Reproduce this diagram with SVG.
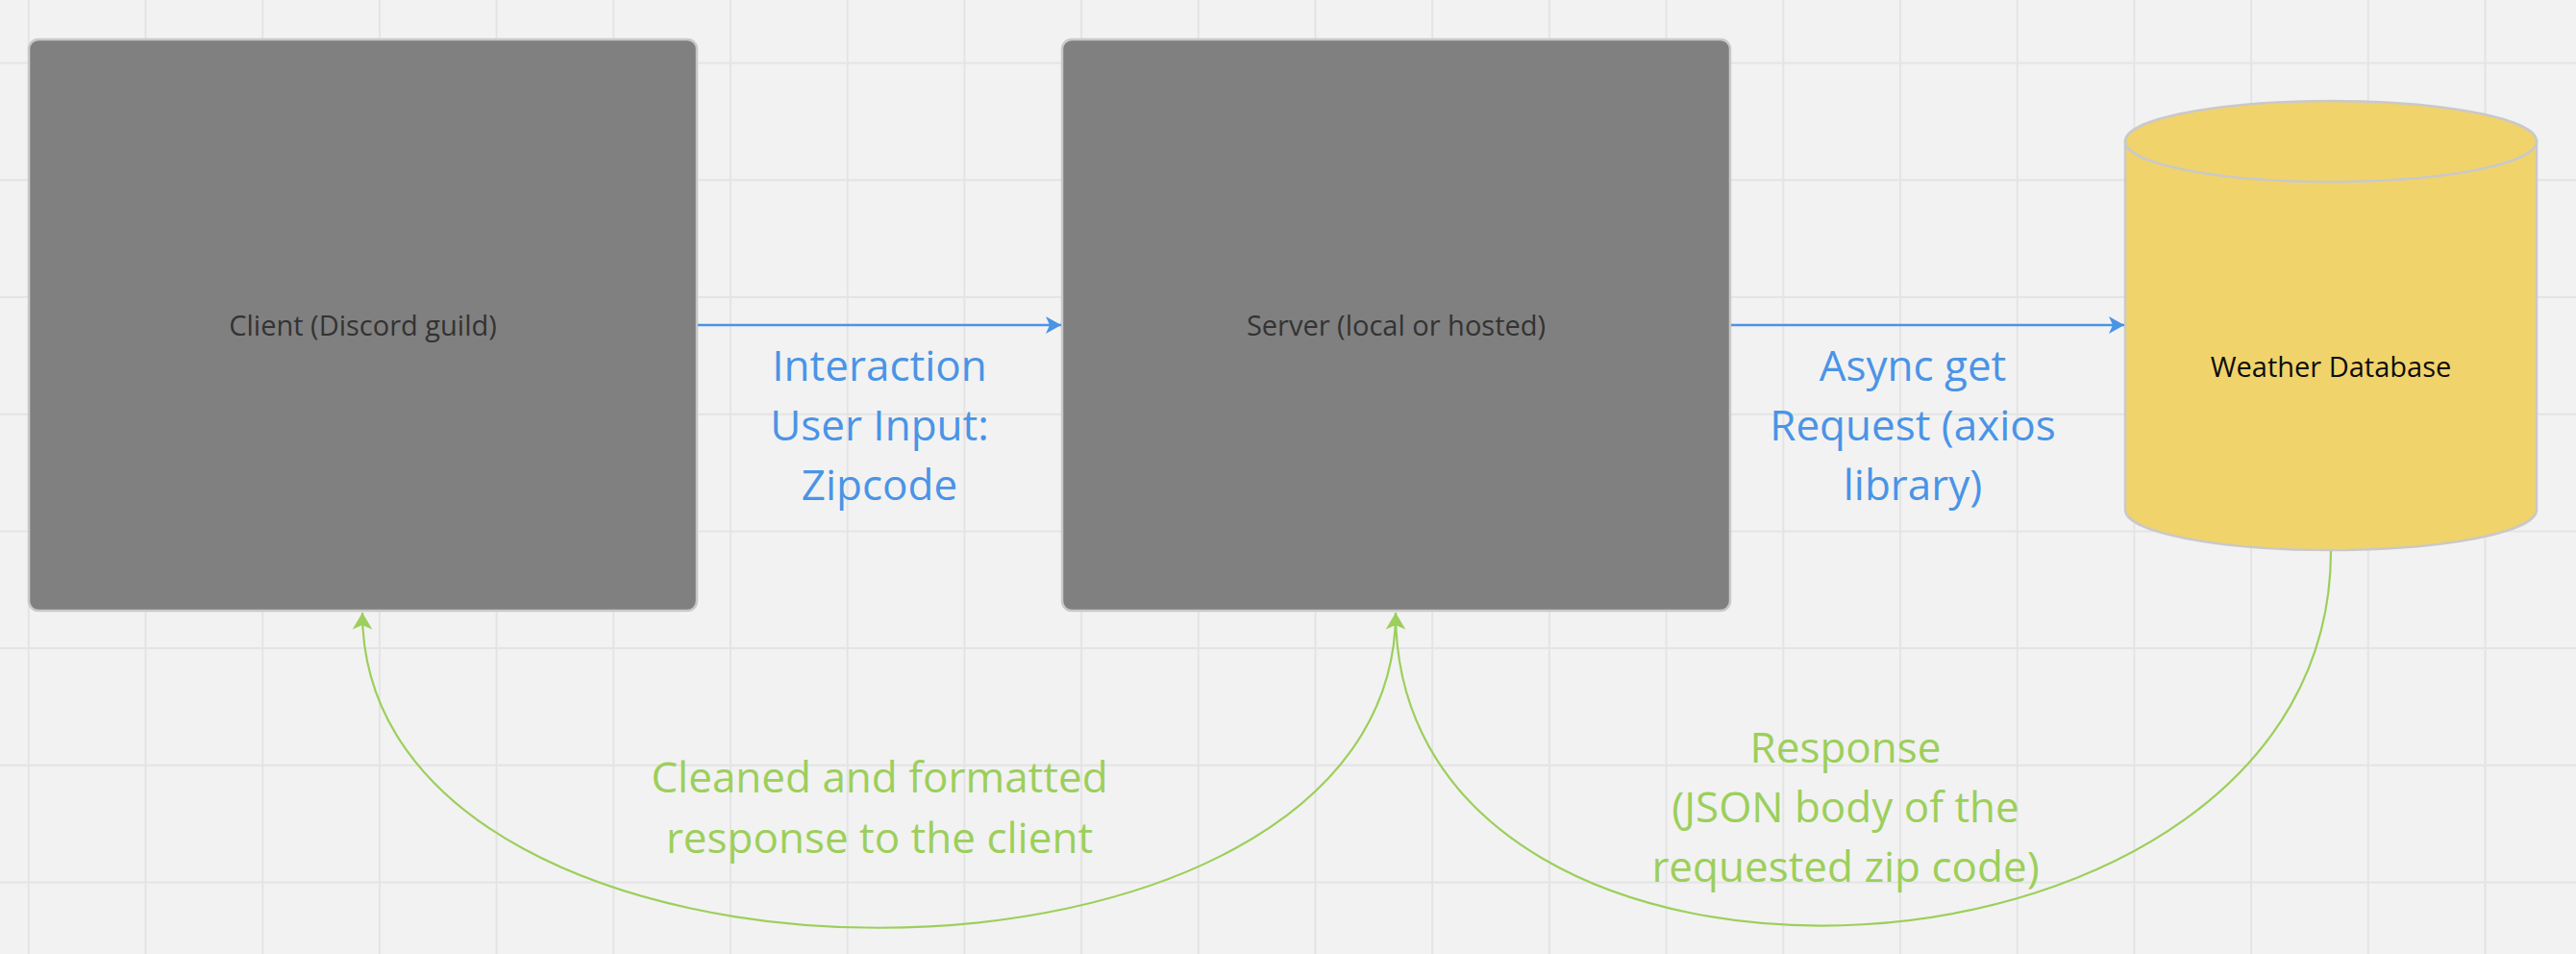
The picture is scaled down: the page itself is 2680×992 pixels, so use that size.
<svg xmlns="http://www.w3.org/2000/svg" width="2680" height="992" viewBox="0 0 2680 992">
  <style>
    .grid { stroke: #e4e4e4; stroke-width: 2; fill: none; }
    .box { fill: #808080; stroke: #c9c9c9; stroke-width: 2.5; }
    .boxtxt { font-family: "Open Sans", "Noto Sans", "Liberation Sans", sans-serif; font-size: 29px; fill: #333333; text-anchor: middle; }
    .dbtxt { font-family: "Open Sans", "Noto Sans", "Liberation Sans", sans-serif; font-size: 29px; fill: #0d0d0d; text-anchor: middle; }
    .blue { stroke: #4a94e6; stroke-width: 2.5; fill: none; }
    .green { stroke: #9ccf5b; stroke-width: 2.2; fill: none; }
    .bluetxt { font-family: "Open Sans", "Noto Sans", "Liberation Sans", sans-serif; font-size: 44px; fill: #4a94e6; text-anchor: middle; }
    .greentxt { font-family: "Open Sans", "Noto Sans", "Liberation Sans", sans-serif; font-size: 44px; fill: #9ccf5b; text-anchor: middle; }
  </style>
  <defs>
    <marker id="arrBlue" markerUnits="userSpaceOnUse" markerWidth="20" markerHeight="22" viewBox="0 -11 17 22" refX="16" refY="0" orient="auto">
      <path d="M0,-9 L16,0 L0,9 L4,0 Z" fill="#4a94e6"/>
    </marker>
    <marker id="arrGreen" markerUnits="userSpaceOnUse" markerWidth="20" markerHeight="24" viewBox="0 -11 17 22" refX="16" refY="0" orient="auto">
      <path d="M0,-9.5 L16,0 L0,9.5 L4,0 Z" fill="#9ccf5b"/>
    </marker>
  </defs>

  <rect x="0" y="0" width="2680" height="992" fill="#f2f2f2"/>
  <path class="grid" d="M29.8 0V992 M151.5 0V992 M273.2 0V992 M394.9 0V992 M516.6 0V992 M638.3 0V992 M760 0V992 M881.7 0V992 M1003.4 0V992 M1125.1 0V992 M1246.8 0V992 M1368.5 0V992 M1490.2 0V992 M1611.9 0V992 M1733.6 0V992 M1855.3 0V992 M1977 0V992 M2098.7 0V992 M2220.4 0V992 M2342.1 0V992 M2463.8 0V992 M2585.5 0V992 M0 65.6H2680 M0 187.3H2680 M0 309H2680 M0 430.7H2680 M0 552.4H2680 M0 674.1H2680 M0 795.8H2680 M0 917.5H2680"/>

  <g id="client">
    <rect class="box" x="30" y="41" width="695" height="594" rx="10" ry="10"/>
    <text class="boxtxt" x="377.5" y="349">Client (Discord guild)</text>
  </g>

  <g id="server">
    <rect class="box" x="1105" y="41" width="695" height="594" rx="10" ry="10"/>
    <text class="boxtxt" x="1452.5" y="349">Server (local or hosted)</text>
  </g>

  <g id="weather-db">
    <path d="M2211,147 L2211,530 A214,42 0 0 0 2639,530 L2639,147 Z" fill="#f1d36b" stroke="#c9c9c9" stroke-width="2.5"/>
    <ellipse cx="2425" cy="147" rx="214" ry="42" fill="#f1d36b" stroke="#c9c9c9" stroke-width="2.5"/>
    <text class="dbtxt" x="2425" y="392">Weather Database</text>
  </g>

  <g id="connectors">
    <line class="blue" x1="726" y1="338" x2="1104" y2="338" marker-end="url(#arrBlue)"/>
    <line class="blue" x1="1801" y1="338" x2="2210" y2="338" marker-end="url(#arrBlue)"/>
    <path class="green" d="M1452,637 C1452,1074 377,1074 377,637" marker-end="url(#arrGreen)"/>
    <path class="green" d="M2425,573 C2425,1055 1452,1105 1452,637" marker-end="url(#arrGreen)"/>

    <text class="bluetxt" x="915" y="396">Interaction</text>
    <text class="bluetxt" x="915" y="458">User Input:</text>
    <text class="bluetxt" x="915" y="520">Zipcode</text>

    <text class="bluetxt" x="1990" y="396">Async get</text>
    <text class="bluetxt" x="1990" y="458">Request (axios</text>
    <text class="bluetxt" x="1990" y="520">library)</text>

    <text class="greentxt" x="915" y="824">Cleaned and formatted</text>
    <text class="greentxt" x="915" y="887">response to the client</text>

    <text class="greentxt" x="1920" y="793">Response</text>
    <text class="greentxt" x="1920" y="855">(JSON body of the</text>
    <text class="greentxt" x="1920" y="917">requested zip code)</text>
  </g>
</svg>
